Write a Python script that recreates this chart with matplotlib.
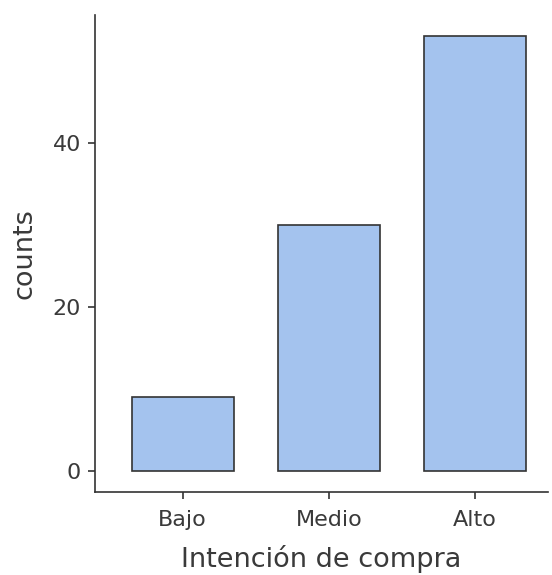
import matplotlib
matplotlib.use("Agg")
import matplotlib.pyplot as plt

# data
categories = ["Bajo", "Medio", "Alto"]
counts = [9, 30, 53]
yticks = [0, 20, 40]

bar_color = "#a4c3ee"
edge_color = "#333333"
text_color = "#3a3a3a"

fig = plt.figure(figsize=(5.52, 5.75), dpi=100)
ax = fig.add_axes([0.1721, 0.1443, 0.8207, 0.8296])

x = list(range(len(categories)))
ax.bar(x, counts, width=0.7, color=bar_color, edgecolor=edge_color, linewidth=1.2)

ax.set_xlim(-0.6, 2.5)
ax.set_ylim(-2.6, 55.6)
ax.set_xticks(x)
ax.set_xticklabels(categories)
ax.set_yticks(yticks)

for side in ("top", "right"):
    ax.spines[side].set_visible(False)
for side in ("left", "bottom"):
    ax.spines[side].set_color("#333333")
    ax.spines[side].set_linewidth(1.2)

ax.tick_params(axis="x", colors="#333333", labelcolor=text_color,
               labelsize=16, length=5, width=1.2, pad=8)
ax.tick_params(axis="y", colors="#333333", labelcolor=text_color,
               labelsize=16, length=5, width=1.2, pad=5)

ax.set_xlabel("Intención de compra", fontsize=19.5, color=text_color, labelpad=11)
ax.set_ylabel("counts", fontsize=19.5, color=text_color, labelpad=11)

fig.savefig("out.png", dpi=100)
